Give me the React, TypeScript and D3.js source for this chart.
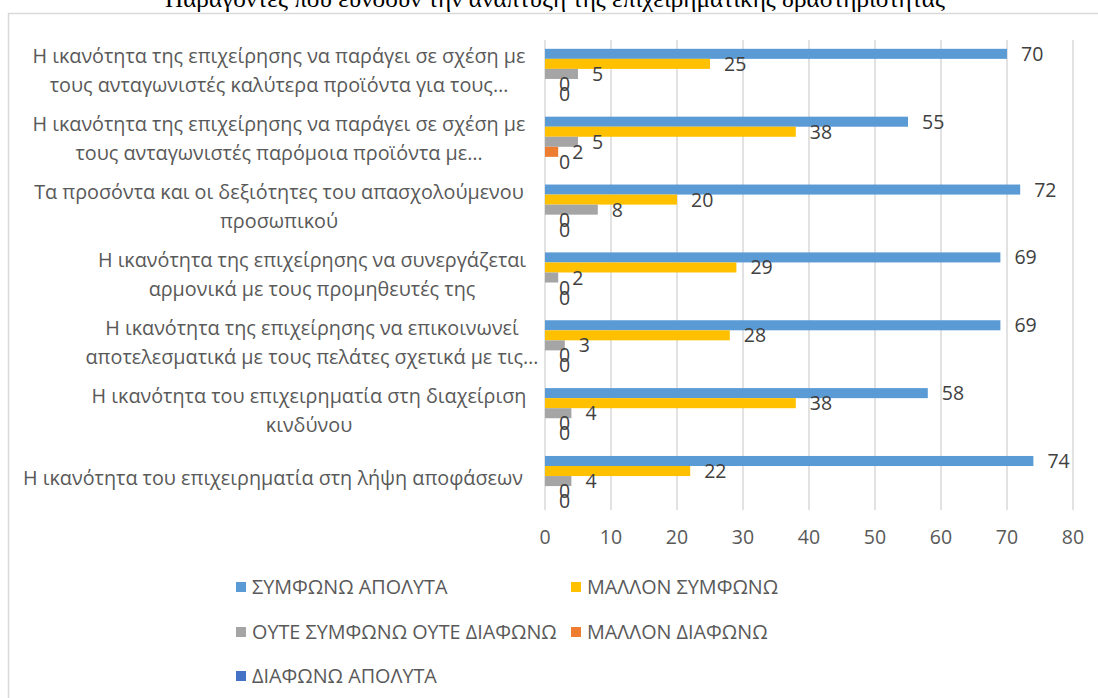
import React from "react";
import * as d3 from "d3";

const title = "Παράγοντες που ευνοούν την ανάπτυξη της επιχειρηματικής δραστηριότητας";

// category labels, top to bottom, already wrapped the way the chart shows them
const categoryLines = [
  ["Η ικανότητα της επιχείρησης να παράγει σε σχέση με", "τους ανταγωνιστές καλύτερα προϊόντα για τους…"],
  ["Η ικανότητα της επιχείρησης να παράγει σε σχέση με", "τους ανταγωνιστές παρόμοια προϊόντα με…"],
  ["Τα προσόντα και οι δεξιότητες του απασχολούμενου", "προσωπικού"],
  ["Η ικανότητα της επιχείρησης να συνεργάζεται", "αρμονικά με τους προμηθευτές της"],
  ["Η ικανότητα της επιχείρησης να επικοινωνεί", "αποτελεσματικά με τους πελάτες σχετικά με τις…"],
  ["Η ικανότητα του επιχειρηματία στη διαχείριση", "κινδύνου"],
  ["Η ικανότητα του επιχειρηματία στη λήψη αποφάσεων"],
];

const seriesNames = [
  "ΣΥΜΦΩΝΩ ΑΠΟΛΥΤΑ",
  "ΜΑΛΛΟΝ ΣΥΜΦΩΝΩ",
  "ΟΥΤΕ ΣΥΜΦΩΝΩ ΟΥΤΕ ΔΙΑΦΩΝΩ",
  "ΜΑΛΛΟΝ ΔΙΑΦΩΝΩ",
  "ΔΙΑΦΩΝΩ ΑΠΟΛΥΤΑ",
];
const seriesColors = ["#5B9BD5", "#FFC000", "#A5A5A5", "#ED7D31", "#4472C4"];

const agreeFully = [70, 55, 72, 69, 69, 58, 74];
const ratherAgree = [25, 38, 20, 29, 28, 38, 22];
const neither = [5, 5, 8, 2, 3, 4, 4];
const ratherDisagree = [0, 2, 0, 0, 0, 0, 0];
const disagreeFully = [0, 0, 0, 0, 0, 0, 0];

const xTicks = [0, 10, 20, 30, 40, 50, 60, 70, 80];

const W = 1098;
const H = 698;
const font = "'Open Sans', sans-serif";
// horizontal centre of each wrapped label block (Excel centres each block on its own)
const labelCenterX = [279, 279, 279, 312, 312, 309, 273];

export default function App() {
  const values = [agreeFully, ratherAgree, neither, ratherDisagree, disagreeFully];
  const idx = categoryLines.map((_, i) => i);

  const x = d3.scaleLinear().domain([0, 80]).range([545, 1073]);
  const y = d3.scaleBand<number>().domain(idx).range([40, 515]).paddingInner(0.26).paddingOuter(0.13);
  const inner = d3.scaleBand<number>().domain(seriesNames.map((_, i) => i)).range([0, y.bandwidth()]);

  const legendPos = [
    [236, 587], [571, 587],
    [236, 632], [571, 632],
    [236, 676],
  ];

  return (
    <svg width={W} height={H} style={{ position: "absolute", left: 0, top: 0, background: "#fff" }}>
      <text x={555} y={7} textAnchor="middle" fontFamily="'Liberation Serif', serif" fontSize={24}
        textLength={780} lengthAdjust="spacingAndGlyphs" fill="#000">{title}</text>
      <rect x={8.5} y={13.5} width={W + 10} height={H + 10} fill="#fff" stroke="#d9d9d9" strokeWidth={1.5} />

      {/* grid */}
      {xTicks.map((t) => (
        <g key={t}>
          <line x1={x(t)} x2={x(t)} y1={40} y2={510} stroke="#d9d9d9" strokeWidth={1.5} />
          <text x={x(t)} y={537} dy="0.35em" textAnchor="middle" fontFamily={font} fontSize={19.5} fill="#595959">{t}</text>
        </g>
      ))}

      {/* bars */}
      {idx.map((c) => (
        <g key={c} transform={`translate(0,${y(c)})`}>
          {values.map((s, k) => (
            <g key={k}>
              <rect x={x(0)} y={inner(k)} width={x(s[c]) - x(0)} height={inner.bandwidth()} fill={seriesColors[k]} />
              <text x={x(s[c]) + 14} y={(inner(k) || 0) + inner.bandwidth() / 2} dy="0.36em"
                fontFamily={font} fontSize={19.5} fill="#404040">{s[c]}</text>
            </g>
          ))}
        </g>
      ))}

      {/* category labels */}
      {categoryLines.map((lines, c) => {
        const cy = (y(c) || 0) + y.bandwidth() / 2 - 3;
        const lh = 29;
        return lines.map((ln, j) => (
          <text key={`${c}-${j}`} x={labelCenterX[c]} y={cy + (j - (lines.length - 1) / 2) * lh} dy="0.35em"
            textAnchor="middle" fontFamily={font} fontSize={19.8} fill="#595959">{ln}</text>
        ));
      })}

      {/* legend */}
      {seriesNames.map((n, k) => (
        <g key={n} transform={`translate(${legendPos[k][0]},${legendPos[k][1]})`}>
          <rect x={0} y={-5} width={10} height={10} fill={seriesColors[k]} />
          <text x={16} y={0} dy="0.35em" fontFamily={font} fontSize={19.8} fill="#595959">{n}</text>
        </g>
      ))}
    </svg>
  );
}
